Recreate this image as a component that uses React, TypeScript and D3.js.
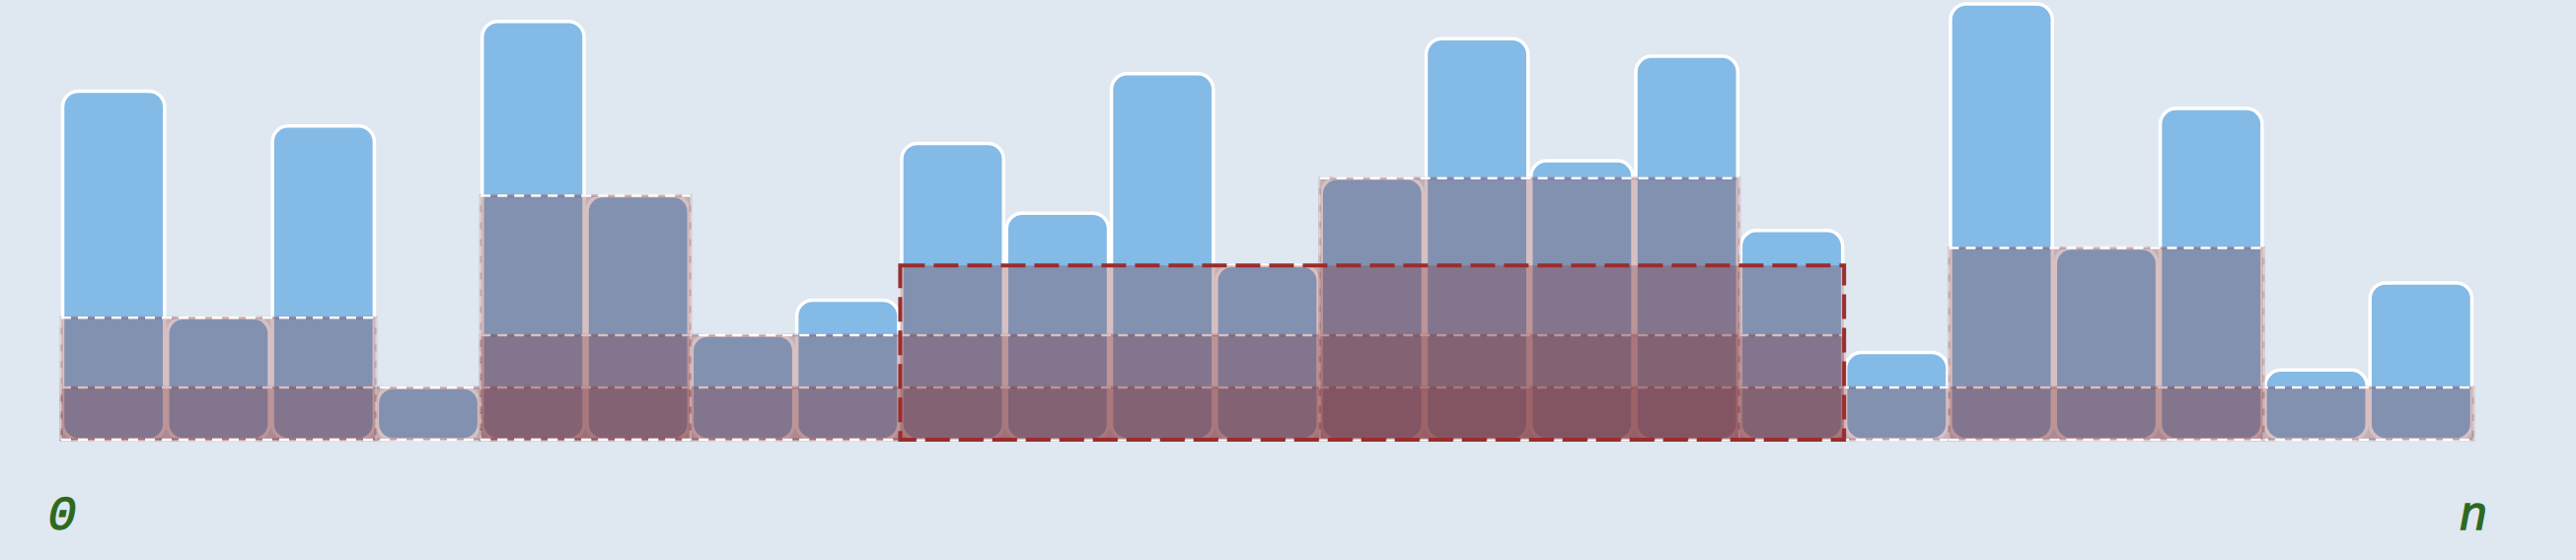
import React from 'react';
import * as d3 from 'd3';

// bar heights, left to right
const values = [20, 7, 18, 3, 24, 14, 6, 8, 17, 13, 21, 10, 15, 23, 16, 22, 12, 5, 25, 11, 19, 4, 9];

// ranges [lo, hi] (inclusive) in which one element is the minimum
const ranges: [number, number][] = [
  [0, 22],
  [0, 2],
  [4, 16],
  [4, 5],
  [12, 15],
  [18, 20],
];

// the highlighted range
const query: [number, number] = [8, 16];

const endLabels = ['0', 'n'];

const W = 2611;
const H = 568;

const BG = '#dfe7f1';
const BAR = '#84bae6';
const SHADE = '#843b42';
const SHADE_OPACITY = 0.32;
const QUERY_STROKE = '#9a2d2d';
const LABEL = '#2d6a1e';

export default function App() {
  const x = d3.scaleBand<number>()
    .domain(d3.range(values.length))
    .range([62, 2507])
    .padding(0);

  const y = d3.scaleLinear()
    .domain([0, 25])
    .range([446, 4]);

  const bw = x.bandwidth();
  const rangeMin = (r: [number, number]) => d3.min(values.slice(r[0], r[1] + 1)) as number;

  const rectOf = (r: [number, number]) => {
    const x0 = x(r[0]) as number;
    const x1 = (x(r[1]) as number) + bw;
    const top = y(rangeMin(r));
    return { x0, x1, top, bottom: y(0) };
  };

  const q = rectOf(query);

  return (
    <svg
      width={W}
      height={H}
      style={{ position: 'absolute', left: 0, top: 0, background: BG, display: 'block' }}
    >
      <rect x={0} y={0} width={W} height={H} fill={BG} />

      {/* bars */}
      {values.map((v, i) => (
        <rect
          key={i}
          x={(x(i) as number) + 1.5}
          y={y(v)}
          width={bw - 3}
          height={y(0) - y(v)}
          rx={16}
          ry={16}
          fill={BAR}
          stroke="#ffffff"
          strokeWidth={3.5}
        />
      ))}

      {/* min ranges */}
      {ranges.map((r, i) => {
        const b = rectOf(r);
        return (
          <g key={i}>
            <rect
              x={b.x0}
              y={b.top}
              width={b.x1 - b.x0}
              height={b.bottom - b.top}
              fill={SHADE}
              fillOpacity={SHADE_OPACITY}
              stroke={SHADE}
              strokeOpacity={0.25}
              strokeWidth={3}
            />
            <line x1={b.x0} x2={b.x0} y1={b.top} y2={b.bottom}
              stroke="#ffffff" strokeOpacity={0.35} strokeWidth={2.5} strokeDasharray="10 7" />
            <line x1={b.x1} x2={b.x1} y1={b.top} y2={b.bottom}
              stroke="#ffffff" strokeOpacity={0.35} strokeWidth={2.5} strokeDasharray="10 7" />
            <line x1={b.x0} x2={b.x1} y1={b.top} y2={b.top}
              stroke="#ffffff" strokeWidth={2.5} strokeDasharray="10 7" />
            <line x1={b.x0} x2={b.x1} y1={b.bottom} y2={b.bottom}
              stroke="#ffffff" strokeWidth={2.5} strokeDasharray="10 7" />
          </g>
        );
      })}

      {/* highlighted range */}
      <rect
        x={q.x0}
        y={q.top}
        width={q.x1 - q.x0}
        height={q.bottom - q.top}
        fill={SHADE}
        fillOpacity={SHADE_OPACITY}
        stroke={QUERY_STROKE}
        strokeWidth={4}
        strokeDasharray="25 9"
      />

      {/* end labels */}
      {endLabels.map((t, i) => (
        <text
          key={t}
          x={i === 0 ? (x(0) as number) + 1 : (x(values.length - 1) as number) + bw}
          y={537}
          textAnchor="middle"
          fontFamily="'Liberation Mono', monospace"
          fontStyle="italic"
          fontSize={48}
          fill={LABEL}
          stroke={LABEL}
          strokeWidth={1.3}
        >
          {t}
        </text>
      ))}
    </svg>
  );
}
